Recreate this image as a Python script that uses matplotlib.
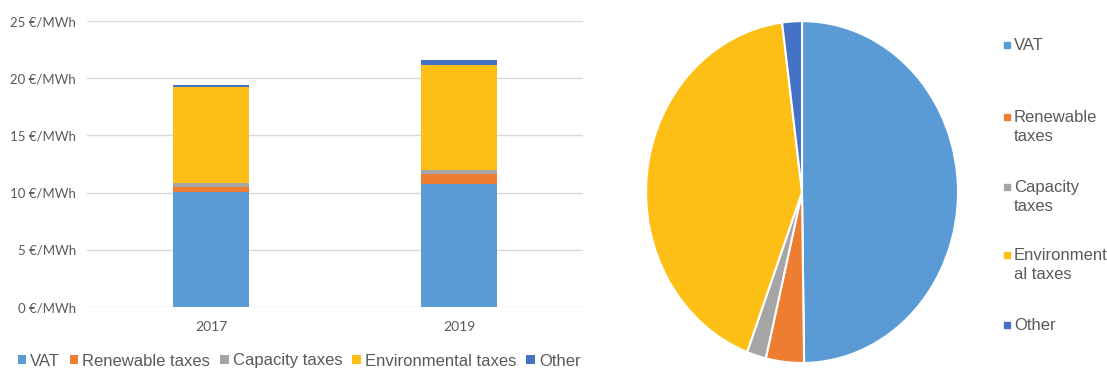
import matplotlib.pyplot as plt
from matplotlib.patches import Rectangle
import numpy as np

# data
years = ['2017', '2019']
components = ['VAT', 'Renewable taxes', 'Capacity taxes', 'Environmental taxes', 'Other']
vat = [10.07, 10.74]
renewable = [0.38, 0.85]
capacity = [0.35, 0.43]
environmental = [8.44, 9.11]
other = [0.21, 0.44]
pie_labels = ['VAT', 'Renewable\ntaxes', 'Capacity\ntaxes', 'Environment\nal taxes', 'Other']
y_ticks = [0, 5, 10, 15, 20, 25]

colors = ['#5B9BD5', '#ED7D31', '#A5A5A5', '#FDBF16', '#4472C4']
grey = '#595959'

fig = plt.figure(figsize=(11.07, 3.72), dpi=100)

# stacked bars
ax = fig.add_axes([0.0786, 0.1747, 0.4481, 0.7688])
series = [vat, renewable, capacity, environmental, other]
x = np.arange(len(years))
bottom = np.zeros(len(years))
for vals, c, name in zip(series, colors, components):
    ax.bar(x, vals, 0.31, bottom=bottom, color=c, label=name, zorder=3)
    bottom += np.array(vals)

ax.set_xlim(-0.5, 1.5)
ax.set_ylim(0, 25)
ax.set_yticks(y_ticks)
ax.set_yticklabels([f'{t} €/MWh' for t in y_ticks], family='Lato', fontsize=9.5, color=grey)
ax.set_xticks(x)
ax.set_xticklabels(years, family='Lato', fontsize=10, color=grey)
ax.tick_params(length=0, pad=8)
ax.tick_params(axis='x', pad=10)
ax.grid(axis='y', color='#D9D9D9', lw=1, zorder=0)
for s in ax.spines.values():
    s.set_visible(False)

leg = ax.legend(loc='center', bbox_to_anchor=(299 / 1107, 1 - 361 / 372), bbox_transform=fig.transFigure,
                ncol=5, frameon=False, handlelength=0.5, handleheight=0.5, handletextpad=0.25,
                columnspacing=0.6, prop={'family': 'Liberation Sans', 'size': 12})
for t in leg.get_texts():
    t.set_color(grey)

# pie for 2019
pax = fig.add_axes([0.5836, 0.0242, 0.2818, 0.919])
shares = [s[1] for s in series]
pax.pie(shares, colors=colors, startangle=90, counterclock=False,
        wedgeprops={'edgecolor': 'white', 'linewidth': 1.5})
pax.set_aspect('auto')
pax.set_xlim(-1, 1)
pax.set_ylim(-1, 1)

# pie legend
label_y = [38, 110, 180, 248, 318]
for lab, c, yy in zip(pie_labels, colors, label_y):
    fig.text(1014 / 1107, 1 - yy / 372, lab, family='Liberation Sans', fontsize=12, color=grey,
             va='top', ha='left', linespacing=1.35, transform=fig.transFigure)
    fig.patches.append(Rectangle((1004 / 1107, 1 - (yy + 10) / 372), 6 / 1107, 6 / 372,
                                 color=c, transform=fig.transFigure, figure=fig))

fig.savefig('out.png', dpi=100)
